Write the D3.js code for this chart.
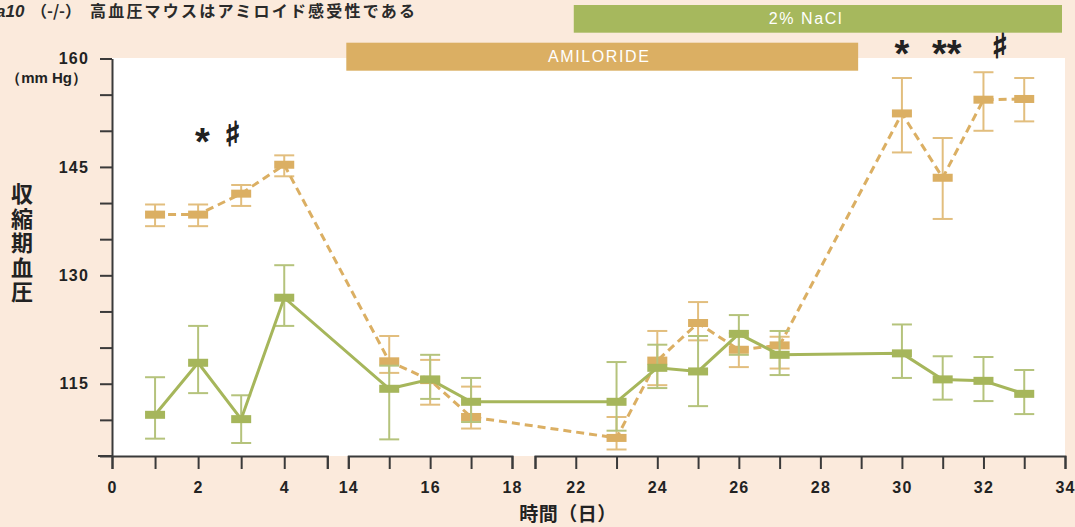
<!DOCTYPE html>
<html>
<head>
<meta charset="utf-8">
<script src="https://cdn.jsdelivr.net/npm/d3@7"></script>
<style>
  html, body { margin: 0; padding: 0; background: #FBEADC; }
  svg { display: block; }
</style>
</head>
<body>
<svg id="chart" width="1075" height="527"></svg>
<script>
// Measurement days (x axis is broken between 5–14 and 18–21)
const days = [1, 2, 3, 4, 15, 16, 17, 23, 24, 25, 26, 27, 30, 31, 32, 33];

// Knockout mice (dashed, gold): mean and error-bar bounds, mm Hg
const koMean = [138.4, 138.4, 141.3, 145.3, 118.1, 115.5, 110.4, 107.5, 118.2, 123.4, 119.7, 120.3, 152.4, 143.5, 154.3, 154.4];
const koHigh = [139.8, 139.8, 142.5, 146.6, 121.6, 118.3, 114.6, 110.4, 122.3, 126.3, 122.0, 121.5, 157.3, 149.0, 158.1, 157.3];
const koLow  = [136.8, 136.8, 139.6, 143.7, 116.5, 112.1, 108.8, 105.9, 114.8, 121.0, 117.3, 117.1, 147.0, 137.8, 150.0, 151.3];

// Wild-type mice (solid, green)
const wtMean = [110.7, 117.9, 110.1, 126.9, 114.3, 115.6, 112.5, 112.5, 117.2, 116.7, 121.9, 119.0, 119.2, 115.6, 115.4, 113.6];
const wtHigh = [115.9, 123.0, 113.4, 131.4, 117.5, 119.0, 115.8, 118.0, 120.4, 121.6, 124.5, 122.3, 123.2, 118.8, 118.7, 116.9];
const wtLow  = [107.4, 113.7, 106.8, 123.0, 107.3, 112.9, 109.7, 108.5, 114.4, 111.9, 119.0, 116.2, 115.8, 112.8, 112.6, 110.8];

// Axis segments and tick labels
const xSegments = [[0, 5], [14, 18], [21, 34]];
const xTickLabels = [0, 2, 4, 14, 16, 18, 22, 24, 26, 28, 30, 32, 34];
const yTicks = [105, 110, 115, 120, 125, 130, 135, 140, 145, 150, 155, 160];
const yTickLabels = [115, 130, 145, 160];

// Treatment periods (days)
const treatments = [
  { name: "AMILORIDE", start: 14, end: 29 },
  { name: "2% NaCl",   start: 22, end: 34 }
];

// Significance marks: day and which row
const sigMarks = [
  { day: 2.1, sym: "*", row: "low" },
  { day: 2.8, sym: "♯", row: "low" },
  { day: 30, sym: "*", row: "high" },
  { day: 31.1, sym: "**", row: "high" },
  { day: 32.4, sym: "♯", row: "high" }
];

const ORANGE = "#DBAF63", GREEN = "#A6B65B";
const ORANGE_ERR = "#E2BE7E", GREEN_ERR = "#B5C37C";
const AXIS = "#3A3A3A";
const FONT = "'Liberation Sans', Arial, sans-serif";
const JP = "'Noto Sans CJK JP', sans-serif";

const svg = d3.select("#chart");

const plotLeft = 112, plotRight = 1065, plotTop = 58, plotBottom = 456;

// Piecewise scale: each axis segment gets its own pixel span
const x = d3.scaleLinear()
  .domain([0, 5, 14, 18, 21, 34])
  .range([plotLeft, 327.3, 348.3, 512, 535, plotRight]);

const y = d3.scaleLinear().domain([105, 160]).range([plotBottom, 58.5]);

// White plotting area
svg.append("rect")
  .attr("x", plotLeft).attr("y", plotTop)
  .attr("width", plotRight - plotLeft).attr("height", plotBottom - plotTop)
  .attr("fill", "#fff");

// Treatment bars
const barColors = { "AMILORIDE": ORANGE, "2% NaCl": "#A6B85D" };
const barRows = { "AMILORIDE": [42.7, 70.7], "2% NaCl": [5, 32.7] };
const barTextX = { "AMILORIDE": -3, "2% NaCl": -12 };
treatments.forEach(t => {
  const [y0, y1] = barRows[t.name];
  const x0 = x(t.start) - 2, x1 = x(t.end) - 3;
  svg.append("rect")
    .attr("x", x0).attr("y", y0).attr("width", x1 - x0).attr("height", y1 - y0)
    .attr("fill", barColors[t.name]);
  svg.append("text")
    .attr("x", (x0 + x1) / 2 + barTextX[t.name]).attr("y", y1 - 8.5)
    .attr("text-anchor", "middle")
    .attr("fill", "#fff")
    .attr("font-family", FONT).attr("font-size", 16)
    .attr("letter-spacing", 1.6)
    .text(t.name);
});

// Y axis
const yAxis = d3.axisLeft(y)
  .tickValues(yTicks)
  .tickSize(12).tickSizeOuter(0).tickPadding(11)
  .tickFormat(d => yTickLabels.includes(d) ? d : "");
const gy = svg.append("g").attr("transform", `translate(${plotLeft},0)`).call(yAxis);
gy.selectAll("path, line").attr("stroke", AXIS).attr("stroke-width", 2);
gy.selectAll("text").attr("font-family", FONT).attr("font-size", 16)
  .attr("font-weight", "bold").attr("letter-spacing", 1.2).attr("fill", "#222");

svg.append("text")
  .attr("x", 87).attr("y", 83)
  .attr("text-anchor", "end")
  .attr("font-family", FONT).attr("font-size", 15).attr("font-weight", "bold")
  .attr("fill", "#222")
  .text("（mm Hg）");

// X axis, one bracket per segment
xSegments.forEach(([a, b]) => {
  const seg = d3.scaleLinear().domain([a, b]).range([x(a), x(b)]);
  const ax = d3.axisBottom(seg)
    .tickValues(d3.range(a, b + 1))
    .tickSize(13).tickSizeOuter(13).tickPadding(13)
    .tickFormat(d => xTickLabels.includes(d) ? d : "");
  const g = svg.append("g").attr("transform", `translate(0,${plotBottom})`).call(ax);
  g.selectAll("path, line").attr("stroke", AXIS).attr("stroke-width", 2);
  g.selectAll("text").attr("font-family", FONT).attr("font-size", 16)
    .attr("font-weight", "bold").attr("letter-spacing", 1.2).attr("fill", "#222");
});
// short stub left of the y axis along the baseline
svg.append("line")
  .attr("x1", 98).attr("x2", plotLeft).attr("y1", plotBottom).attr("y2", plotBottom)
  .attr("stroke", AXIS).attr("stroke-width", 2);

// Axis titles
svg.append("text")
  .attr("x", 22).attr("y", 183)
  .attr("writing-mode", "vertical-rl")
  .attr("font-family", JP).attr("font-size", 22).attr("font-weight", "bold")
  .attr("letter-spacing", 2.5)
  .attr("fill", "#222")
  .text("収縮期血圧");

svg.append("text")
  .attr("x", 568).attr("y", 521)
  .attr("text-anchor", "middle")
  .attr("font-family", JP).attr("font-size", 19).attr("font-weight", "bold")
  .attr("letter-spacing", 0.5)
  .attr("fill", "#222")
  .text("時間（日）");

// Header line
const title = svg.append("text").attr("y", 17).attr("fill", "#2a2a2a")
  .attr("font-weight", "bold").attr("font-size", 16);
title.append("tspan").attr("x", -4).attr("font-family", FONT)
  .attr("font-style", "italic").attr("font-size", 17).text("a10");
title.append("tspan").attr("x", 31).attr("font-family", JP).text("（-/-）");
title.append("tspan").attr("x", 90).attr("font-family", JP)
  .attr("letter-spacing", 2.2).text("高血圧マウスはアミロイド感受性である");

// Series
function series(mean, hi, lo) {
  return days.map((d, i) => ({ day: d, v: mean[i], hi: hi[i], lo: lo[i] }));
}
const ko = series(koMean, koHigh, koLow);
const wt = series(wtMean, wtHigh, wtLow);

function drawSeries(data, color, errColor, dashed) {
  const g = svg.append("g");
  // error bars
  const eb = g.selectAll(".eb").data(data).join("g");
  eb.append("line")
    .attr("x1", d => x(d.day)).attr("x2", d => x(d.day))
    .attr("y1", d => y(d.hi)).attr("y2", d => y(d.lo))
    .attr("stroke", errColor).attr("stroke-width", 2);
  ["hi", "lo"].forEach(k => {
    eb.append("line")
      .attr("x1", d => x(d.day) - 10).attr("x2", d => x(d.day) + 10)
      .attr("y1", d => y(d[k])).attr("y2", d => y(d[k]))
      .attr("stroke", errColor).attr("stroke-width", 2);
  });
  // connecting line
  g.append("path")
    .datum(data)
    .attr("d", d3.line().x(d => x(d.day)).y(d => y(d.v)))
    .attr("fill", "none")
    .attr("stroke", color).attr("stroke-width", 3)
    .attr("stroke-dasharray", dashed ? "8,5" : null);
  // markers
  g.selectAll(".m").data(data).join("rect")
    .attr("x", d => x(d.day) - 10).attr("y", d => y(d.v) - 4)
    .attr("width", 20).attr("height", 8)
    .attr("fill", color);
}
drawSeries(ko, ORANGE, ORANGE_ERR, true);
drawSeries(wt, GREEN, GREEN_ERR, false);

// Significance marks
const rowY = { low: 139, high: 51 };
sigMarks.forEach(m => {
  const isStar = m.sym.includes("*");
  svg.append("text")
    .attr("x", x(m.day)).attr("y", rowY[m.row] + (isStar ? 16 : 7))
    .attr("text-anchor", "middle")
    .attr("font-family", isStar ? FONT : "'DejaVu Sans', sans-serif")
    .attr("font-weight", "bold")
    .attr("font-size", isStar ? 38 : 34)
    .attr("fill", "#222")
    .attr("stroke", isStar ? null : "#222")
    .attr("stroke-width", isStar ? null : 1.2)
    .text(m.sym);
});
</script>
</body>
</html>
